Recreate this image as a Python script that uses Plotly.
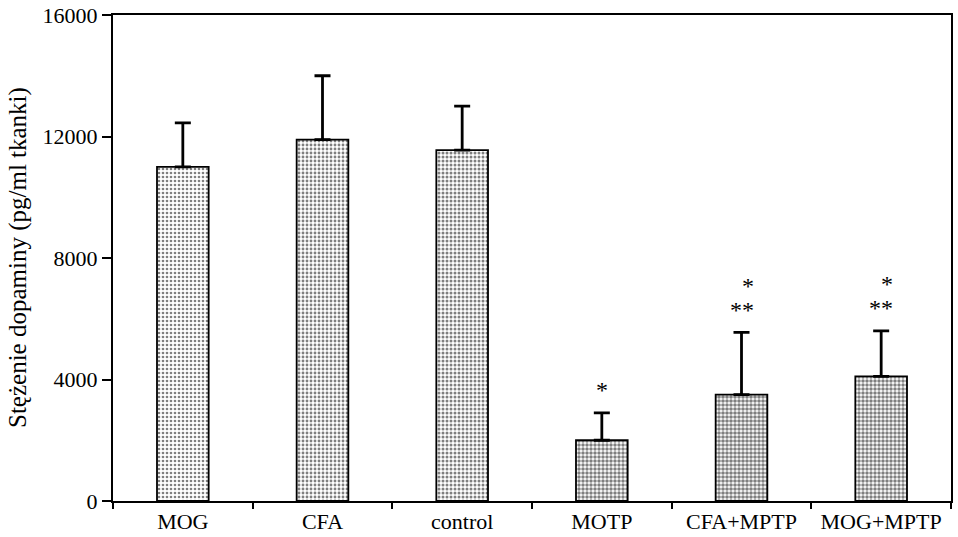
import plotly.graph_objects as go

categories = ["MOG", "CFA", "control", "MOTP", "CFA+MPTP", "MOG+MPTP"]
means = [11000, 11900, 11550, 2000, 3500, 4100]
errors_up = [1450, 2100, 1450, 900, 2050, 1500]
sig_single = ["", "", "", "*", "*", "*"]
sig_double = ["", "", "", "", "**", "**"]
y_ticks = [0, 4000, 8000, 12000, 16000]

FONT = "Liberation Serif, Times New Roman, serif"

fig = go.Figure()
solid = [0.35, 0.4, 0.45, 0.6, 0.65, 0.6]
for i, c in enumerate(categories):
    fig.add_trace(go.Bar(
        x=[c], y=[means[i]], width=0.37,
        marker=dict(
            color="white",
            line=dict(color="black", width=1.8),
            pattern=dict(shape=".", fgcolor="black", bgcolor="white",
                         size=4, solidity=solid[i]),
        ),
        error_y=dict(type="data", array=[errors_up[i]], arrayminus=[0],
                     symmetric=False, color="black", thickness=2.8, width=8),
        showlegend=False, hoverinfo="skip",
    ))

for i, c in enumerate(categories):
    top = means[i] + errors_up[i]
    if sig_double[i]:
        fig.add_annotation(x=c, y=top + 250, text=sig_double[i], showarrow=False,
                           yanchor="bottom", font=dict(size=24, family=FONT, color="#000000"))
        fig.add_annotation(x=c, y=top + 1050, text=sig_single[i], showarrow=False,
                           xshift=6, yanchor="bottom", font=dict(size=24, family=FONT, color="#000000"))
    elif sig_single[i]:
        fig.add_annotation(x=c, y=top + 250, text=sig_single[i], showarrow=False,
                           yanchor="bottom", font=dict(size=24, family=FONT, color="#000000"))

fig.add_annotation(xref="paper", yref="paper", x=0, y=0.5, xshift=-95,
                   text="Stężenie dopaminy (pg/ml tkanki)", textangle=-90,
                   showarrow=False, xanchor="center", yanchor="middle",
                   font=dict(size=25, family=FONT, color="black"))

fig.update_layout(
    width=958, height=537,
    margin=dict(l=113, r=7, t=15, b=36, autoexpand=False),
    plot_bgcolor="white", paper_bgcolor="white",
    font=dict(family=FONT, size=22, color="black"),
)
fig.update_xaxes(
    type="category", range=[-0.5, 5.5],
    showline=True, linecolor="black", linewidth=2, mirror=True,
    ticks="outside", tickson="boundaries", ticklen=6, tickwidth=1.5, tickcolor="black",
    showgrid=False, tickfont=dict(size=22, family=FONT), tickangle=0, automargin=False,
)
fig.update_yaxes(
    range=[0, 16000], tickvals=y_ticks, ticktext=[str(v) for v in y_ticks],
    showline=True, linecolor="black", linewidth=2, mirror=True,
    ticks="outside", ticklen=9, tickwidth=1.5, tickcolor="black",
    showgrid=False, zeroline=False, tickfont=dict(size=22, family=FONT), automargin=False,
)

fig.write_html("out.html", config={"displayModeBar": False},
               post_script="document.body.style.margin='0';document.body.style.overflow='hidden';")
